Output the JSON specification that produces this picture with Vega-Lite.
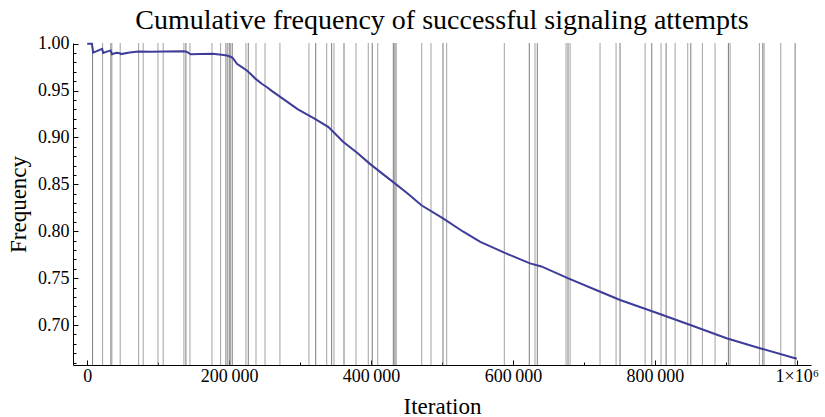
{
  "$schema": "https://vega.github.io/schema/vega-lite/v6.json",
  "width": 738,
  "height": 322,
  "autosize": {"type": "none"},
  "padding": {"left": 73, "top": 43, "right": 14, "bottom": 52},
  "background": "white",
  "config": {
    "view": {"stroke": null},
    "font": "Liberation Serif",
    "axis": {
      "grid": false,
      "domainColor": "black",
      "domainWidth": 1,
      "tickColor": "black",
      "tickWidth": 1,
      "labelColor": "black",
      "titleColor": "black",
      "labelFont": "Liberation Serif",
      "titleFont": "Liberation Serif",
      "labelFontSize": 18,
      "titleFontSize": 23,
      "titleFontWeight": "normal",
      "labelFlush": false,
      "labelOverlap": false
    }
  },
  "title": {
    "text": "Cumulative frequency of successful signaling attempts",
    "font": "Liberation Serif",
    "fontSize": 28,
    "fontWeight": "normal",
    "color": "black",
    "anchor": "middle",
    "frame": "group",
    "baseline": "alphabetic",
    "offset": 0,
    "dy": 22
  },
  "layer": [
    {
      "data": {
        "values": [
          {"iteration": 7600, "tone": "dark"},
          {"iteration": 21700, "tone": "light"},
          {"iteration": 33400, "tone": "dark"},
          {"iteration": 34800, "tone": "light"},
          {"iteration": 46500, "tone": "light"},
          {"iteration": 72500, "tone": "light"},
          {"iteration": 78900, "tone": "light"},
          {"iteration": 99700, "tone": "light"},
          {"iteration": 107100, "tone": "light"},
          {"iteration": 136300, "tone": "light"},
          {"iteration": 139100, "tone": "dark"},
          {"iteration": 144800, "tone": "light"},
          {"iteration": 175800, "tone": "light"},
          {"iteration": 188000, "tone": "light"},
          {"iteration": 195500, "tone": "dark"},
          {"iteration": 197900, "tone": "light"},
          {"iteration": 200200, "tone": "dark"},
          {"iteration": 202100, "tone": "light"},
          {"iteration": 204400, "tone": "dark"},
          {"iteration": 223700, "tone": "light"},
          {"iteration": 227000, "tone": "dark"},
          {"iteration": 237900, "tone": "light"},
          {"iteration": 250600, "tone": "light"},
          {"iteration": 271600, "tone": "light"},
          {"iteration": 312500, "tone": "light"},
          {"iteration": 322000, "tone": "dark"},
          {"iteration": 337500, "tone": "light"},
          {"iteration": 344500, "tone": "dark"},
          {"iteration": 347800, "tone": "light"},
          {"iteration": 361900, "tone": "dark"},
          {"iteration": 378800, "tone": "light"},
          {"iteration": 396100, "tone": "light"},
          {"iteration": 401700, "tone": "dark"},
          {"iteration": 409400, "tone": "light"},
          {"iteration": 431400, "tone": "dark"},
          {"iteration": 433300, "tone": "light"},
          {"iteration": 435200, "tone": "dark"},
          {"iteration": 471400, "tone": "light"},
          {"iteration": 484500, "tone": "light"},
          {"iteration": 501400, "tone": "dark"},
          {"iteration": 506600, "tone": "light"},
          {"iteration": 587800, "tone": "light"},
          {"iteration": 623000, "tone": "dark"},
          {"iteration": 631100, "tone": "light"},
          {"iteration": 634300, "tone": "dark"},
          {"iteration": 674800, "tone": "light"},
          {"iteration": 677600, "tone": "dark"},
          {"iteration": 680500, "tone": "light"},
          {"iteration": 722700, "tone": "light"},
          {"iteration": 745300, "tone": "light"},
          {"iteration": 750900, "tone": "dark"},
          {"iteration": 786200, "tone": "light"},
          {"iteration": 795600, "tone": "dark"},
          {"iteration": 808700, "tone": "light"},
          {"iteration": 815800, "tone": "dark"},
          {"iteration": 828500, "tone": "light"},
          {"iteration": 846300, "tone": "light"},
          {"iteration": 850600, "tone": "dark"},
          {"iteration": 866900, "tone": "light"},
          {"iteration": 884800, "tone": "light"},
          {"iteration": 903600, "tone": "dark"},
          {"iteration": 906000, "tone": "light"},
          {"iteration": 947300, "tone": "light"},
          {"iteration": 952100, "tone": "dark"},
          {"iteration": 953900, "tone": "light"},
          {"iteration": 977400, "tone": "light"},
          {"iteration": 997600, "tone": "dark"}
        ]
      },
      "mark": {"type": "rule", "strokeWidth": 1},
      "encoding": {
        "x": {
          "field": "iteration",
          "type": "quantitative",
          "scale": {"domain": [-20000, 1020000], "nice": false, "zero": false},
          "axis": {
            "title": "Iteration",
            "labelFont": "Liberation Serif",
            "titleFont": "Liberation Serif",
            "values": [0, 50000, 100000, 150000, 200000, 250000, 300000, 350000, 400000, 450000, 500000, 550000, 600000, 650000, 700000, 750000, 800000, 850000, 900000, 950000, 1000000],
            "labelExpr": "datum.value % 200000 !== 0 ? '' : datum.value === 0 ? '0' : datum.value === 1000000 ? '1×10⁶' : format(datum.value / 1000, 'd') + '\u2009000'",
            "tickSize": {"condition": {"test": "datum.value % 200000 === 0", "value": -5}, "value": -3},
            "labelPadding": 7,
            "titlePadding": 8
          }
        },
        "color": {
          "field": "tone",
          "type": "nominal",
          "scale": {"domain": ["light", "dark"], "range": ["#a2a2a2", "#7c7c7c"]},
          "legend": null
        }
      }
    },
    {
      "data": {
        "values": [
          {"iteration": 0, "frequency": 1.0},
          {"iteration": 6500, "frequency": 1.0},
          {"iteration": 8500, "frequency": 0.9905},
          {"iteration": 21000, "frequency": 0.9945},
          {"iteration": 22500, "frequency": 0.9902},
          {"iteration": 33000, "frequency": 0.9928},
          {"iteration": 35000, "frequency": 0.9888},
          {"iteration": 41000, "frequency": 0.9903},
          {"iteration": 46000, "frequency": 0.9898},
          {"iteration": 47500, "frequency": 0.9889},
          {"iteration": 60000, "frequency": 0.9905},
          {"iteration": 72000, "frequency": 0.9916},
          {"iteration": 90000, "frequency": 0.9914},
          {"iteration": 110000, "frequency": 0.9916},
          {"iteration": 136000, "frequency": 0.9918},
          {"iteration": 140000, "frequency": 0.9914},
          {"iteration": 146000, "frequency": 0.9886},
          {"iteration": 160000, "frequency": 0.9889},
          {"iteration": 177000, "frequency": 0.9892},
          {"iteration": 192000, "frequency": 0.988},
          {"iteration": 197000, "frequency": 0.9874},
          {"iteration": 202000, "frequency": 0.986},
          {"iteration": 205000, "frequency": 0.985},
          {"iteration": 211000, "frequency": 0.9785},
          {"iteration": 218000, "frequency": 0.975},
          {"iteration": 225000, "frequency": 0.9714},
          {"iteration": 230000, "frequency": 0.968},
          {"iteration": 237000, "frequency": 0.9627},
          {"iteration": 246000, "frequency": 0.9572},
          {"iteration": 253000, "frequency": 0.9538},
          {"iteration": 260000, "frequency": 0.9497},
          {"iteration": 272000, "frequency": 0.9432},
          {"iteration": 297000, "frequency": 0.93},
          {"iteration": 321000, "frequency": 0.9199},
          {"iteration": 340000, "frequency": 0.911},
          {"iteration": 347000, "frequency": 0.9058},
          {"iteration": 361000, "frequency": 0.8951},
          {"iteration": 380000, "frequency": 0.884},
          {"iteration": 398000, "frequency": 0.8721},
          {"iteration": 415000, "frequency": 0.862},
          {"iteration": 434000, "frequency": 0.8508},
          {"iteration": 452000, "frequency": 0.84},
          {"iteration": 471000, "frequency": 0.8277},
          {"iteration": 502000, "frequency": 0.8135},
          {"iteration": 530000, "frequency": 0.7995},
          {"iteration": 554000, "frequency": 0.7887},
          {"iteration": 587000, "frequency": 0.7774},
          {"iteration": 624000, "frequency": 0.7657},
          {"iteration": 640000, "frequency": 0.7625},
          {"iteration": 678000, "frequency": 0.7497},
          {"iteration": 723000, "frequency": 0.7355},
          {"iteration": 751000, "frequency": 0.7267},
          {"iteration": 798000, "frequency": 0.7142},
          {"iteration": 850000, "frequency": 0.7001},
          {"iteration": 901000, "frequency": 0.6859},
          {"iteration": 948000, "frequency": 0.6753},
          {"iteration": 1000000, "frequency": 0.664}
        ]
      },
      "mark": {"type": "line", "color": "#3d3d99", "strokeWidth": 2, "clip": false},
      "encoding": {
        "x": {"field": "iteration", "type": "quantitative"},
        "y": {
          "field": "frequency",
          "type": "quantitative",
          "scale": {"domain": [0.6574, 1.0007], "nice": false, "zero": false},
          "axis": {
            "title": "Frequency",
            "labelFont": "Liberation Serif",
            "titleFont": "Liberation Serif",
            "values": [0.66, 0.67, 0.68, 0.69, 0.7, 0.71, 0.72, 0.73, 0.74, 0.75, 0.76, 0.77, 0.78, 0.79, 0.8, 0.81, 0.82, 0.83, 0.84, 0.85, 0.86, 0.87, 0.88, 0.89, 0.9, 0.91, 0.92, 0.93, 0.94, 0.95, 0.96, 0.97, 0.98, 0.99, 1.0],
            "labelExpr": "abs(datum.value * 20 - round(datum.value * 20)) < 0.000001 ? format(datum.value, '.2f') : ''",
            "tickSize": {"condition": {"test": "abs(datum.value * 20 - round(datum.value * 20)) < 0.000001", "value": -5}, "value": -3},
            "labelPadding": 9,
            "titlePadding": 7
          }
        }
      }
    }
  ]
}
